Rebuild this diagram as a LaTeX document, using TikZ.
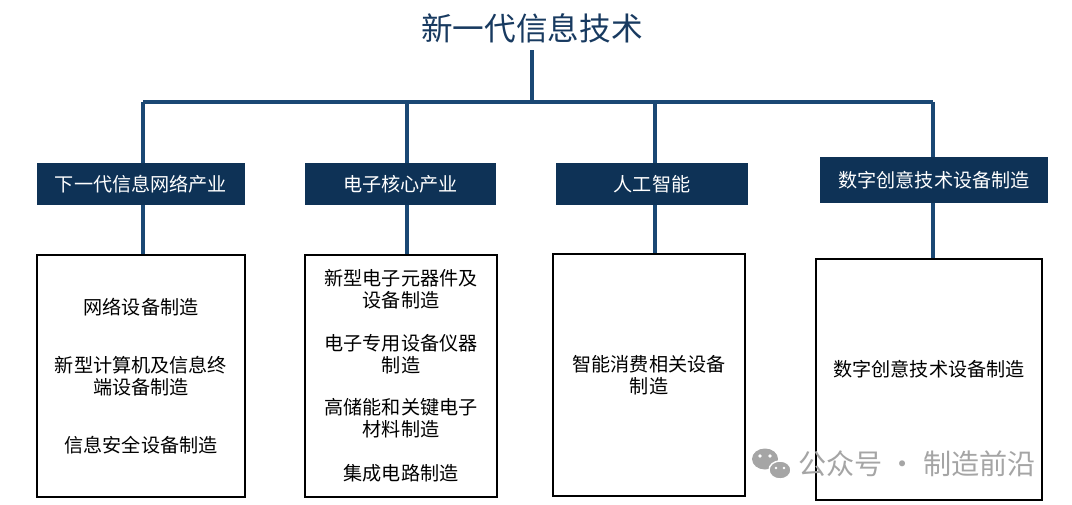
\documentclass[tikz,border=0pt]{standalone}
\usepackage{fontspec}
\newfontfamily\cjk{Noto Sans CJK SC}
\definecolor{navy}{RGB}{14,50,86}
\definecolor{linkblue}{RGB}{26,72,116}
\definecolor{titleblue}{RGB}{24,58,96}
\definecolor{markgray}{RGB}{165,165,165}
\tikzset{
  conn/.style={draw=linkblue, line width=2.2pt},
  head/.style={fill=navy, text=white, inner sep=0pt, minimum height=1.05cm,
    font=\cjk\fontsize{13.6}{16}\selectfont},
  itembox/.style={draw=black, line width=1.4pt, fill=white, inner sep=0pt,
    minimum height=6.05cm, align=center, font=\cjk\fontsize{13.6}{15.6}\selectfont}
}
\begin{document}
\begin{tikzpicture}[x=0.025cm, y=-0.025cm]
\useasboundingbox (0,0) rectangle (1072,505);
% title and bus
\node[anchor=south, inner sep=0pt, text=titleblue, font=\cjk\fontsize{22.5}{26}\selectfont] (title) at (532,43) {新一代信息技术};
\coordinate (root) at (532,102);
\coordinate (b1) at (143,102);
\coordinate (b2) at (407,102);
\coordinate (b3) at (655,102);
\coordinate (b4) at (933,102);
\draw[conn] ([yshift=-5pt]title.south) -- (root);
\draw[conn] (b1) -- (b4);
% second level
\node[head, minimum width=5.2cm] (h1) at (141,184) {下一代信息网络产业};
\node[head, minimum width=4.78cm] (h2) at (400.5,184) {电子核心产业};
\node[head, minimum width=4.8cm] (h3) at (652,184) {人工智能};
\node[head, minimum width=5.7cm, minimum height=1.15cm] (h4) at (934,180) {数字创意技术设备制造};
\foreach \i in {1,...,4}
  \draw[conn] (b\i) -- (b\i |- h\i.north);
% boxes
\node[itembox, minimum width=5.2cm] (box1) at (141,376)
  {网络设备制造\\[0.9cm]新型计算机及信息终\\端设备制造\\[0.9cm]信息安全设备制造};
\node[itembox, minimum width=4.8cm] (box2) at (401,376)
  {新型电子元器件及\\设备制造\\[0.52cm]电子专用设备仪器\\制造\\[0.52cm]高储能和关键电子\\材料制造\\[0.55cm]集成电路制造};
\node[itembox, minimum width=4.8cm] (box3) at (649,375)
  {智能消费相关设备\\制造};
\node[itembox, minimum width=5.65cm, minimum height=6.025cm] (box4) at (929,379.5) {};
\node[font=\cjk\fontsize{13.6}{16}\selectfont] (t4) at (929,369) {数字创意技术设备制造};
\foreach \i in {1,...,4}
  \draw[conn] (h\i.south -| b\i) -- (b\i |- box\i.north);
% watermark
\fill[markgray] (765,459) ellipse (13 and 10.5);
\fill[markgray, draw=white, line width=1pt] (780,470) ellipse (11 and 9);
\fill[white] (760,456) circle (1.8) (770,456) circle (1.8) (776,468) circle (1.4) (784,468) circle (1.4);
\node[anchor=west, inner sep=0pt, text=markgray, font=\cjk\fontsize{20}{22}\selectfont] (mark) at (798,464) {公众号 · 制造前沿};
\end{tikzpicture}
\end{document}
